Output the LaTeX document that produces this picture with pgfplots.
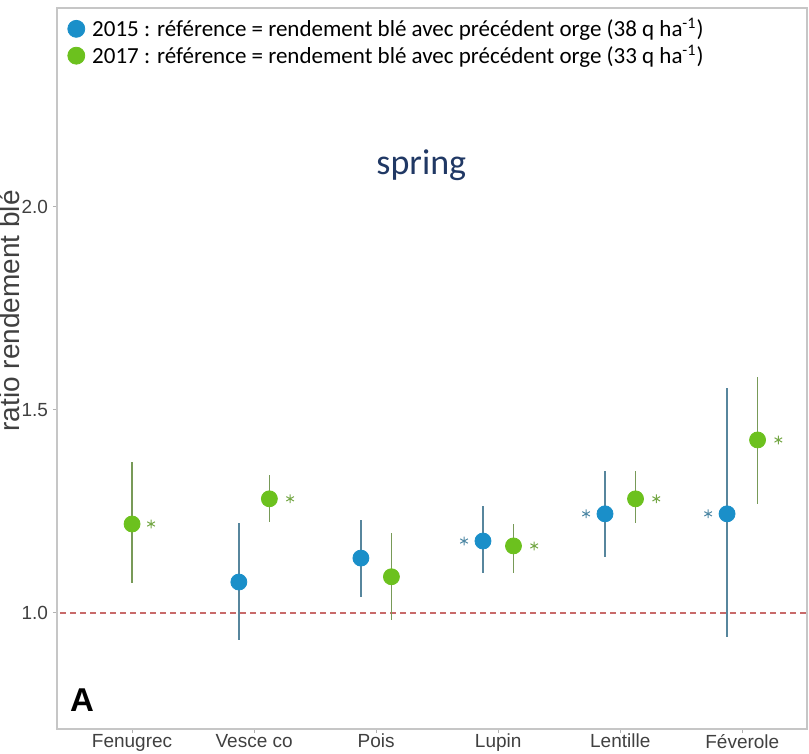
\documentclass[border=0pt]{standalone}
\usepackage{pgfplots}
\pgfplotsset{compat=1.18}
\usepackage{fontspec}
\setmainfont{Liberation Sans}
\newfontfamily\calibri{Carlito}
\definecolor{c15}{HTML}{1A8FC9}
\definecolor{c17}{HTML}{6CC11E}
\definecolor{refred}{HTML}{C86A6A}
\definecolor{navy}{HTML}{203864}

% 2015 : x = category - 0.125
\pgfplotstableread{
x      y     ep    em
0.875  1.076 0.146 0.143
1.875  1.135 0.094 0.096
2.875  1.177 0.087 0.078
3.875  1.244 0.106 0.106
4.875  1.244 0.310 0.303
}\tblue
% 2017 : x = category + 0.125 (Fenugrec alone, centred)
\pgfplotstableread{
x      y     ep    em
0.000  1.219 0.153 0.145
1.125  1.281 0.059 0.057
2.125  1.089 0.108 0.106
3.125  1.165 0.054 0.066
4.125  1.281 0.069 0.059
5.125  1.426 0.155 0.158
}\tgreen
% significance stars
\pgfplotstableread{
x      y
2.720  1.177
3.720  1.244
4.720  1.244
}\sblue
\pgfplotstableread{
x      y
0.156  1.219
1.295  1.281
3.295  1.165
4.295  1.281
5.295  1.426
}\sgreen

\begin{document}
\begin{tikzpicture}
\begin{axis}[
  scale only axis, width=375pt, height=360.5pt,
  xmin=-0.615, xmax=5.53, ymin=0.714, ymax=2.490,
  axis line style={draw=gray!45, line width=0.6pt},
  xtick={0,1,2,3,4,5},
  xticklabels={Fenugrec,Vesce co,Pois,Lupin,Lentille,Féverole},
  ytick={1,1.5,2},
  /pgf/number format/fixed, /pgf/number format/fixed zerofill,
  /pgf/number format/precision=1, /pgf/number format/assume math mode=true,
  tick align=outside, major tick length=2pt,
  tick style={draw=gray!60, line width=0.5pt},
  xtick pos=bottom, ytick pos=left,
  ticklabel style={font=\fontsize{9.5}{11}\selectfont, text=black!75},
  xticklabel style={yshift=3pt},
  yticklabel style={xshift=1pt},
  ylabel={ratio rendement blé},
  ylabel style={font=\fontsize{14}{16}\selectfont, text=black!75, at={(ticklabel cs:0.58)}, yshift=-6pt},
  legend style={at={(rel axis cs:0,1)}, anchor=north west, xshift=5pt, yshift=-2.7pt,
                draw=none, fill=none, inner sep=0pt,
                font=\calibri\fontsize{11.5}{13}\selectfont, row sep=-1.6pt},
  legend cell align=left,
]
\coordinate (sw) at (rel axis cs:0,0);
\coordinate (ne) at (rel axis cs:1,1);
\addlegendimage{legend image code/.code={\fill[c15] (5pt,0pt) circle (4.25pt); \path (10.75pt,0pt);}}
\addlegendentry{2015 : référence = rendement blé avec précédent orge (38 q ha\textsuperscript{-1})}
\addlegendimage{legend image code/.code={\fill[c17] (5pt,0pt) circle (4.25pt); \path (10.75pt,0pt);}}
\addlegendentry{2017 : référence = rendement blé avec précédent orge (33 q ha\textsuperscript{-1})}

\addplot[forget plot, refred, dash pattern=on 3pt off 2pt, line width=0.7pt] coordinates {(-1,1) (6,1)};

\addplot[forget plot, only marks, mark=*, mark size=4pt, mark options={draw=c15, fill=c15},
  error bars/.cd, y dir=both, y explicit, error mark=none,
  error bar style={line width=0.7pt, draw=c15!40!gray}]
  table[x=x, y=y, y error plus=ep, y error minus=em] {\tblue};
\addplot[forget plot, only marks, mark=*, mark size=4pt, mark options={draw=c17, fill=c17},
  error bars/.cd, y dir=both, y explicit, error mark=none,
  error bar style={line width=0.7pt, draw=c17!40!gray}]
  table[x=x, y=y, y error plus=ep, y error minus=em] {\tgreen};

\addplot[forget plot, only marks, mark=asterisk, mark size=2.2pt, mark options={draw=c15!50!gray, line width=0.5pt}]
  table[x=x, y=y] {\sblue};
\addplot[forget plot, only marks, mark=asterisk, mark size=2.2pt, mark options={draw=c17!60!gray, line width=0.5pt}]
  table[x=x, y=y] {\sgreen};

\node[font=\calibri\fontsize{18}{20}\selectfont, text=navy] at (axis cs:2.37,2.103) {spring};
\node[font=\bfseries\fontsize{16.5}{18}\selectfont] at (axis cs:-0.41,0.786) {A};
\end{axis}
\pgfresetboundingbox
\path[use as bounding box] ([shift={(-28.5pt,-12pt)}]sw) rectangle ([shift={(1pt,4pt)}]ne);
\end{tikzpicture}
\end{document}
